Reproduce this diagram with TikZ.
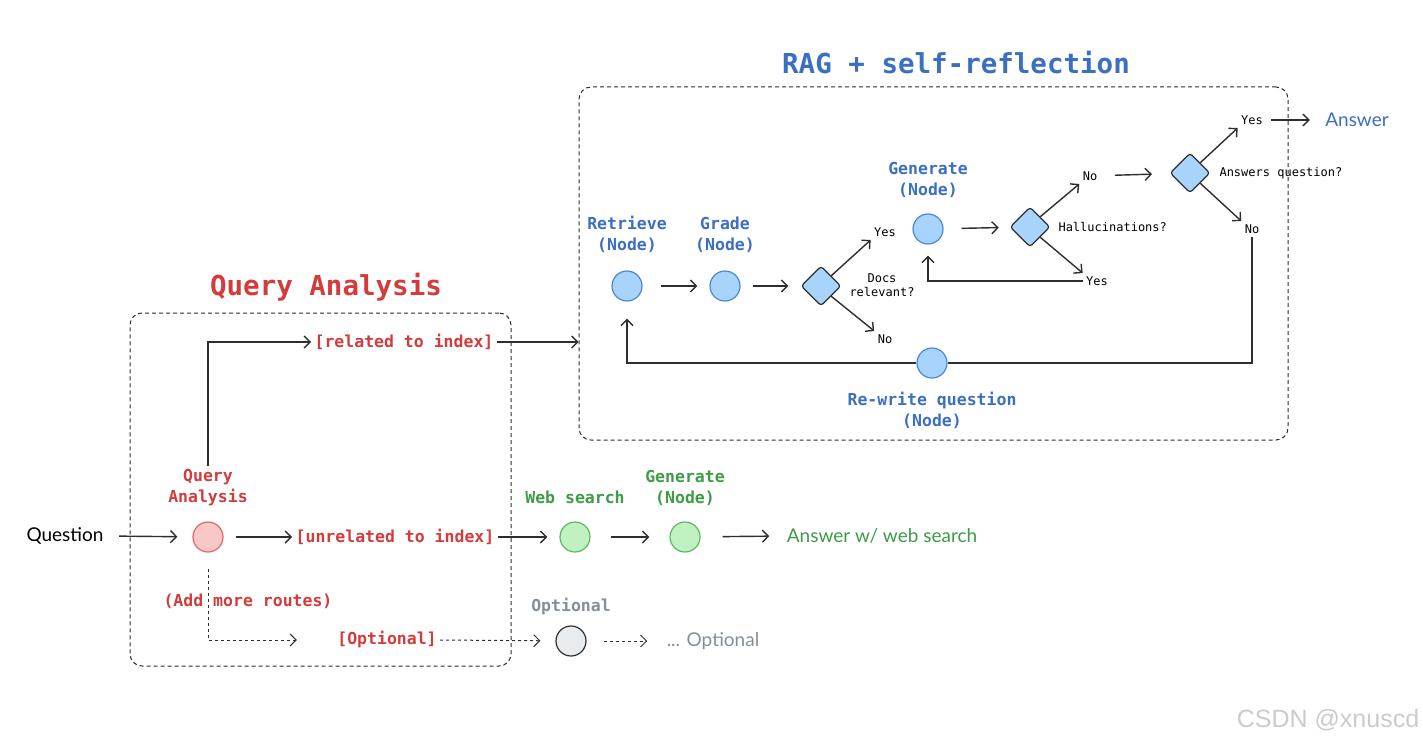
\documentclass[tikz,border=0pt]{standalone}
\usepackage{fontspec}
\setmonofont{DejaVu Sans Mono}
\newfontfamily\handfont{Lato}
\newfontfamily\markfont{Liberation Sans}
\usetikzlibrary{positioning,shapes.geometric,arrows.meta}

\definecolor{linegray}{HTML}{2E2E2E}
\definecolor{ragblue}{HTML}{3B6FC1}
\definecolor{nodeblue}{HTML}{A8D3FA}
\definecolor{edgeblue}{HTML}{4A87D6}
\definecolor{qared}{HTML}{D43B3B}
\definecolor{nodered}{HTML}{F8C8C8}
\definecolor{edgered}{HTML}{E06464}
\definecolor{webgreen}{HTML}{3E9B47}
\definecolor{nodegreen}{HTML}{C1F1C1}
\definecolor{edgegreen}{HTML}{5BB85F}
\definecolor{optgray}{HTML}{868E96}
\definecolor{nodegray}{HTML}{E9ECEF}
\definecolor{markgray}{HTML}{CBCBCB}

\tikzset{
  flow/.style={draw=linegray, line width=1.4pt, -{Straight Barb[length=6pt,width=12pt]}},
  plain/.style={draw=linegray, line width=1.4pt},
  optflow/.style={flow, dashed, line width=1pt},
  frame/.style={draw=linegray, dash pattern=on 4pt off 3pt, line width=1pt, rounded corners=12pt},
  state/.style={circle, minimum size=30pt, inner sep=0pt, line width=1.2pt},
  bluestate/.style={state, draw=edgeblue, fill=nodeblue},
  redstate/.style={state, draw=edgered, fill=nodered},
  greenstate/.style={state, draw=edgegreen, fill=nodegreen},
  graystate/.style={state, draw=linegray, fill=nodegray},
  check/.style={diamond, minimum size=40pt, inner sep=0pt, draw=linegray,
    fill=nodeblue, line width=1.2pt, rounded corners=3pt},
  lbl/.style={align=center, font=\ttfamily\bfseries\fontsize{16.5}{21}\selectfont},
  small/.style={align=center, font=\ttfamily\fontsize{12}{14}\selectfont, text=black},
  title/.style={font=\ttfamily\bfseries\fontsize{27.5}{30}\selectfont},
  hand/.style={font=\handfont\fontsize{19}{22}\selectfont}
}

\begin{document}
\begin{tikzpicture}[x=1pt,y=-1pt]
  \useasboundingbox (0,0) rectangle (1423,746);

  % frames and titles
  \node (rag) [frame, minimum width=709pt, minimum height=353pt] at (933.5,263.5) {};
  \node (qbox) [frame, minimum width=381pt, minimum height=353pt] at (320.5,489.5) {};
  \node (ragtitle) [title, text=ragblue] at (956,63) {RAG + self-reflection};
  \node (qtitle) [title, text=qared] at (326,287) {Query Analysis};

  % RAG nodes
  \node (ret) [bluestate] at (627,286) {};
  \node (grade) [bluestate] at (725,286) {};
  \node (d1) [check] at (821,286) {};
  \node (gen) [bluestate] at (928,229) {};
  \node (d2) [check] at (1030,227) {};
  \node (d3) [check] at (1190,173) {};
  \node (rew) [bluestate] at (932,363) {};

  \node (retlab) [lbl, text=ragblue, above=14pt of ret] {Retrieve\\(Node)};
  \node (gradelab) [lbl, text=ragblue, above=14pt of grade] {Grade\\(Node)};
  \node (genlab) [lbl, text=ragblue, above=12pt of gen] {Generate\\(Node)};
  \node (rewlab) [lbl, text=ragblue, below=10pt of rew] {Re-write question\\(Node)};

  \node (docs) [small] at (882,285) {Docs\\relevant?};
  \node (yes1) [small] at (885,232) {Yes};
  \node (no1) [small] at (885,339) {No};
  \node (hall) [small, anchor=west] at (1055,227) {Hallucinations?};
  \node (no2) [small] at (1090,176) {No};
  \node (yes2) [small] at (1097,281) {Yes};
  \node (ansq) [small, anchor=west] at (1216,173) {Answers question?};
  \node (yes3) [small] at (1252,120) {Yes};
  \node (no3) [small] at (1252,229) {No};
  \node (answer) [hand, text=ragblue] at (1357,120) {Answer};

  % query analysis nodes
  \node (question) [hand, text=black] at (65,536) {Question};
  \node (qa) [redstate] at (208,537) {};
  \node (qalab) [lbl, text=qared, above=12pt of qa] {Query\\Analysis};
  \node (rel) [lbl, text=qared] at (404,342) {[related to index]};
  \node (unrel) [lbl, text=qared] at (395,537) {[unrelated to index]};
  \node (more) [lbl, text=qared] at (248,601) {(Add more routes)};
  \node (opt) [lbl, text=qared] at (387,640) {[Optional]};

  \node (web) [greenstate] at (575,537) {};
  \node (weblab) [lbl, text=webgreen, above=14pt of web] {Web search};
  \node (gen2) [greenstate] at (685,537) {};
  \node (gen2lab) [lbl, text=webgreen, above=12pt of gen2] {Generate\\(Node)};
  \node (answeb) [hand, text=webgreen] at (882,536) {Answer w/ web search};

  \node (gopt) [graystate] at (571,641) {};
  \node (goptlab) [lbl, text=optgray, above=7pt of gopt] {Optional};
  \node (optend) [hand, text=optgray] at (713,641) {... Optional};

  \node (mark) [font=\markfont\fontsize{25}{28}\selectfont, text=markgray] at (1328,720) {CSDN @xnuscd};

  % RAG connectors
  \draw[flow, shorten <=18pt, shorten >=12pt] (ret) -- (grade);
  \draw[flow, shorten <=12pt, shorten >=12pt] (grade) -- (d1);
  \draw[flow] (d1.north east) -- (yes1.south west);
  \draw[flow] (d1.south east) -- (no1.north west);
  \draw[flow, shorten <=18pt, shorten >=11pt] (gen) -- (d2);
  \draw[flow] (d2.north east) -- (no2.south west);
  \draw[flow] (d2.south east) -- (yes2.north west);
  \draw[flow, shorten >=11pt] (yes2.west) -| (gen.south);
  \draw[flow, shorten <=14pt, shorten >=18pt] (no2) -- (d3);
  \draw[flow] (d3.north east) -- (yes3.south west);
  \draw[flow] (d3.south east) -- (no3.north west);
  \draw[flow, shorten <=5pt, shorten >=12pt] (yes3.east) -- (answer.west);
  \draw[plain] (no3.south) |- (rew.east);
  \draw[flow, shorten >=17pt] (rew.west) -| (ret.south);

  % query analysis connectors
  \draw[flow, shorten <=12pt, shorten >=15pt] (question.east) -- (qa);
  \draw[flow, shorten <=12pt] (qa) -- (unrel.west);
  \draw[flow, shorten >=12pt] (unrel.east) -- (web);
  \draw[flow, shorten <=20pt, shorten >=20pt] (web) -- (gen2);
  \draw[flow, shorten <=22pt, shorten >=14pt] (gen2) -- (answeb.west);
  \draw[flow] (qalab.north) |- (rel.west);
  \draw[flow] (rel.east) -- (rag.west |- rel.east);
  \draw[optflow, shorten <=16pt, shorten >=37pt] (qa.south) |- (opt.west);
  \draw[optflow, shorten >=15pt] (opt.east) -- (gopt);
  \draw[optflow, shorten <=17pt, shorten >=16pt] (gopt) -- (optend.west);
\end{tikzpicture}
\end{document}
